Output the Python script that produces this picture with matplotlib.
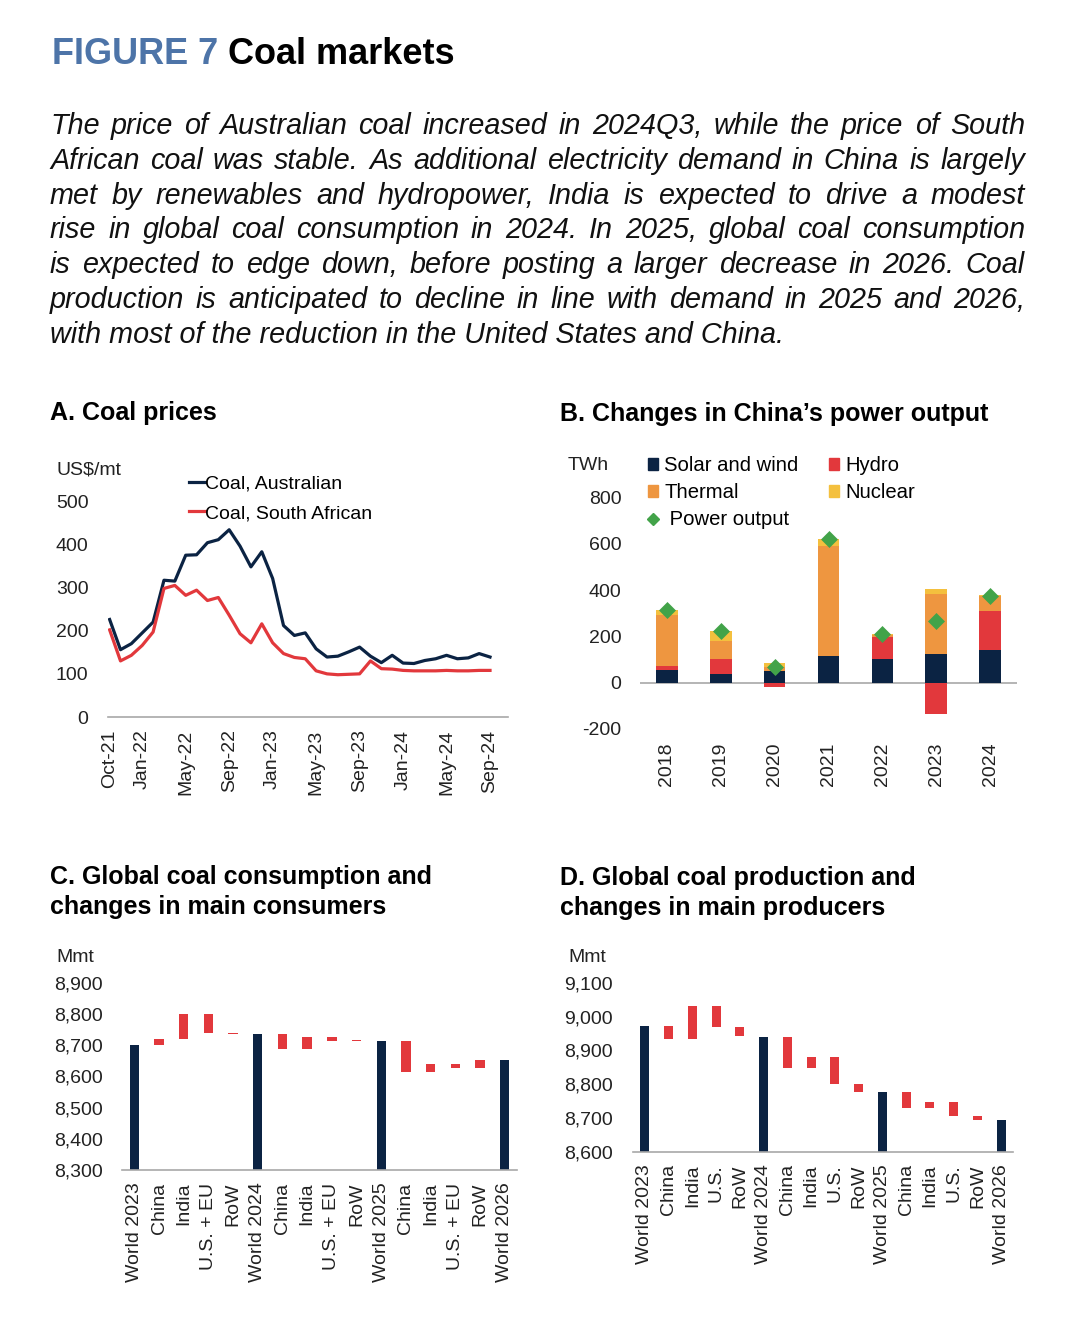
import matplotlib
matplotlib.use("Agg")
import matplotlib.pyplot as plt
from matplotlib.lines import Line2D
from matplotlib.patches import Patch
from matplotlib.ticker import FuncFormatter

plt.rcParams["font.family"] = ["Liberation Sans", "DejaVu Sans"]
plt.rcParams["axes.unicode_minus"] = False

# ── Данные ──
# A. Цены на уголь, US$/mt, Oct-21 … Sep-24 (помесячно)
aus_price = [226, 156, 170, 195, 220, 317, 315, 375, 376, 404, 411, 434,
             396, 348, 383, 321, 212, 189, 195, 158, 139, 141, 151, 162,
             141, 126, 143, 125, 124, 131, 135, 143, 135, 137, 147, 139]
saf_price = [202, 130, 143, 166, 197, 298, 305, 282, 294, 270, 277, 236,
             193, 172, 216, 172, 147, 138, 135, 107, 100, 98, 99, 100,
             130, 112, 111, 108, 107, 107, 107, 108, 107, 107, 108, 108]
price_tick_idx = [0, 3, 7, 11, 15, 19, 23, 27, 31, 35]
price_tick_labels = ["Oct-21", "Jan-22", "May-22", "Sep-22", "Jan-23",
                     "May-23", "Sep-23", "Jan-24", "May-24", "Sep-24"]

# B. Изменение выработки в Китае, TWh
years_b = ["2018", "2019", "2020", "2021", "2022", "2023", "2024"]
solar_wind = [55, 38, 51, 117, 101, 126, 142]
hydro = [17, 65, -20, 0, 96, -137, 168]
thermal = [222, 78, 16, 474, 7, 258, 64]
nuclear = [22, 41, 20, 31, 6, 19, 3]
power_output = [313, 222, 67, 620, 210, 268, 374]

# C. Потребление угля, Mmt (уровни мира + изменения)
cons_labels = ["World 2023", "China", "India", "U.S. + EU", "RoW",
               "World 2024", "China", "India", "U.S. + EU", "RoW",
               "World 2025", "China", "India", "U.S. + EU", "RoW",
               "World 2026"]
cons_world = [8700, 8735, 8713, 8652]
cons_changes = [[21, 78, -59, -5], [-48, 40, -15, 1], [-98, 24, -13, 26]]

# D. Добыча угля, Mmt
prod_labels = ["World 2023", "China", "India", "U.S.", "RoW",
               "World 2024", "China", "India", "U.S.", "RoW",
               "World 2025", "China", "India", "U.S.", "RoW",
               "World 2026"]
prod_world = [8972, 8940, 8777, 8694]
prod_changes = [[-39, 99, -62, -28], [-93, 32, -79, -23], [-49, 18, -39, -13]]

paragraph = [
    "The price of Australian coal increased in 2024Q3, while the price of South",
    "African coal was stable. As additional electricity demand in China is largely",
    "met by renewables and hydropower, India is expected to drive a modest",
    "rise in global coal consumption in 2024. In 2025, global coal consumption",
    "is expected to edge down, before posting a larger decrease in 2026. Coal",
    "production is anticipated to decline in line with demand in 2025 and 2026,",
    "with most of the reduction in the United States and China.",
]

# ── Стиль ──
W, H = 1080, 1319
NAVY = "#0b2343"
RED = "#e2383c"
ORANGE = "#ee9640"
YELLOW = "#f4c03e"
GREEN = "#42a349"
BLUE = "#4d74a8"
GREY = "#a8a8a8"
TICK_FS = 14


def fy(py):
    return 1 - py / H


def add_ax(fig, left, right, top, bottom):
    return fig.add_axes([left / W, fy(bottom), (right - left) / W, (bottom - top) / H])


def style_ax(ax, ypad, xpad):
    for s in ("top", "right", "left"):
        ax.spines[s].set_visible(False)
    ax.spines["bottom"].set_color(GREY)
    ax.spines["bottom"].set_linewidth(1.2)
    ax.tick_params(length=0, labelsize=TICK_FS, colors="#222222")
    ax.tick_params(axis="y", pad=ypad)
    ax.tick_params(axis="x", pad=xpad, labelrotation=90)


def waterfall(ax, world, changes, labels):
    base = ax.get_ylim()[0]
    xs, bottoms, heights, colors = [], [], [], []
    pos = 0
    for i, w in enumerate(world):
        xs.append(pos); bottoms.append(base); heights.append(w - base)
        colors.append(NAVY)
        pos += 1
        if i < len(changes):
            level = w
            for c in changes[i]:
                # совсем малые изменения рисуем тонкой чертой
                xs.append(pos); bottoms.append(min(level, level + c))
                heights.append(max(abs(c), 4))
                colors.append(RED)
                level += c
                pos += 1
    ax.bar(xs, heights, bottom=bottoms, width=0.38, color=colors, linewidth=0)
    ax.set_xticks(range(len(labels)))
    ax.set_xticklabels(labels)
    ax.set_xlim(-0.5, len(labels) - 0.5)
    ax.yaxis.set_major_formatter(FuncFormatter(lambda v, p: f"{v:,.0f}"))


fig = plt.figure(figsize=(W / 100, H / 100), dpi=100)
renderer = fig.canvas.get_renderer()

# ── Заголовок ──
t1 = fig.text(52 / W, fy(55), "FIGURE 7", fontsize=26, fontweight="bold",
              color=BLUE, va="center", ha="left")
w1 = t1.get_window_extent(renderer).width
fig.text((52 + w1 + 10) / W, fy(55), "Coal markets", fontsize=26,
         fontweight="bold", color="black", va="center", ha="left")

# ── Текст с выравниванием по ширине ──
X0, X1 = 50, 1025
PFS = 20.7
for i, line in enumerate(paragraph):
    yb = 134 + 34.8 * i
    if i == len(paragraph) - 1:
        fig.text(X0 / W, fy(yb), line, fontsize=PFS, style="italic",
                 va="baseline", ha="left", color="#111111")
        continue
    words = line.split(" ")
    texts = [fig.text(0, fy(yb), w, fontsize=PFS, style="italic",
                      va="baseline", ha="left", color="#111111") for w in words]
    widths = [t.get_window_extent(renderer).width for t in texts]
    gap = (X1 - X0 - sum(widths)) / (len(words) - 1)
    x = X0
    for t, wd in zip(texts, widths):
        t.set_x(x / W)
        x += wd + gap

# ── Заголовки панелей ──
title_kw = dict(fontsize=18, fontweight="bold", va="center", ha="left",
                linespacing=1.32)
fig.text(50 / W, fy(413), "A. Coal prices", **title_kw)
fig.text(560 / W, fy(414), "B. Changes in China\u2019s power output", **title_kw)
fig.text(50 / W, fy(892), "C. Global coal consumption and\nchanges in main consumers", **title_kw)
fig.text(560 / W, fy(893), "D. Global coal production and\nchanges in main producers", **title_kw)

unit_kw = dict(fontsize=TICK_FS, va="center", ha="left", color="#222222")
fig.text(57 / W, fy(470), "US$/mt", **unit_kw)
fig.text(568 / W, fy(465), "TWh", **unit_kw)
fig.text(56 / W, fy(957), "Mmt", **unit_kw)
fig.text(568 / W, fy(957), "Mmt", **unit_kw)

# ── A. Coal prices ──
axA = add_ax(fig, 108, 508, 475.4, 717)
months = list(range(len(aus_price)))
axA.plot(months, aus_price, color=NAVY, lw=2.3, label="Coal, Australian")
axA.plot(months, saf_price, color=RED, lw=2.3, label="Coal, South African")
axA.set_xlim(-0.15, 35.15 + (508 - 491.7) / 10.83)
axA.set_ylim(0, 560)
axA.set_yticks([0, 100, 200, 300, 400, 500])
axA.set_xticks(price_tick_idx)
axA.set_xticklabels(price_tick_labels)
style_ax(axA, ypad=14, xpad=9)
axA.legend(loc="upper left", bbox_to_anchor=(189 / W, fy(475)),
           bbox_transform=fig.transFigure, frameon=False, fontsize=TICK_FS,
           handlelength=0.8, handletextpad=0.0, labelspacing=0.62,
           borderpad=0, borderaxespad=0)

# ── B. China power output ──
axB = add_ax(fig, 640, 1017, 481.3, 735.9)
xb = list(range(len(years_b)))
pos_bottom = [0.0] * len(xb)
neg_bottom = [0.0] * len(xb)
for vals, col in ((solar_wind, NAVY), (hydro, RED), (thermal, ORANGE), (nuclear, YELLOW)):
    bots = []
    for j, v in enumerate(vals):
        if v >= 0:
            bots.append(pos_bottom[j]); pos_bottom[j] += v
        else:
            bots.append(neg_bottom[j]); neg_bottom[j] += v
    axB.bar(xb, vals, bottom=bots, width=0.4, color=col, linewidth=0, zorder=2)
axB.scatter(xb, power_output, marker="D", s=75, color=GREEN, zorder=4, linewidths=0)
axB.axhline(0, color=GREY, lw=1.2, zorder=1)
axB.set_xlim(-0.5, 6.5)
axB.set_ylim(-230, 870)
axB.set_yticks([-200, 0, 200, 400, 600, 800])
axB.set_xticks(xb)
axB.set_xticklabels(years_b)
style_ax(axB, ypad=13.5, xpad=5)
axB.spines["bottom"].set_visible(False)
handles = [Patch(color=NAVY, label="Solar and wind"),
           Patch(color=ORANGE, label="Thermal"),
           Line2D([], [], marker="D", ls="none", color=GREEN, markersize=6,
                  label=" Power output"),
           Patch(color=RED, label="Hydro"),
           Patch(color=YELLOW, label="Nuclear")]
axB.legend(handles=handles, ncol=2, loc="upper left",
           bbox_to_anchor=(648 / W, fy(456)), bbox_transform=fig.transFigure,
           frameon=False, fontsize=14.6, handlelength=0.5, handleheight=0.5,
           handletextpad=0.3, labelspacing=0.4, columnspacing=1.5,
           borderpad=0, borderaxespad=0)

# ── C. Consumption ──
axC = add_ax(fig, 122, 517, 967, 1170)
axC.set_ylim(8300, 8950)
axC.set_yticks(range(8300, 8901, 100))
waterfall(axC, cons_world, cons_changes, cons_labels)
style_ax(axC, ypad=14, xpad=9)

# ── D. Production ──
axD = add_ax(fig, 633, 1013, 965.8, 1151.7)
axD.set_ylim(8600, 9150)
axD.set_yticks(range(8600, 9101, 100))
waterfall(axD, prod_world, prod_changes, prod_labels)
style_ax(axD, ypad=14.5, xpad=9)

fig.savefig("out.png", dpi=100, facecolor="white")
